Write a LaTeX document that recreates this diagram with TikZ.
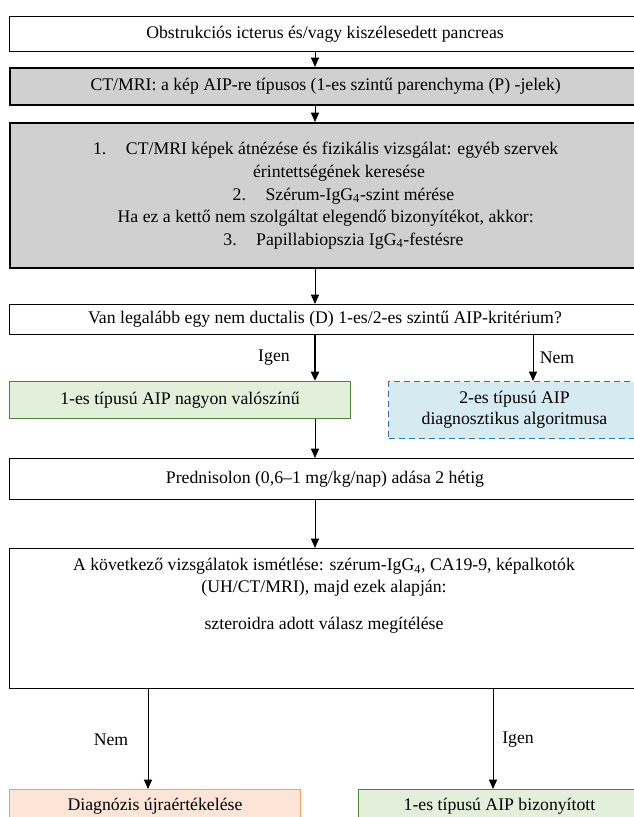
\documentclass[tikz,border=0pt]{standalone}
\usepackage{fontspec}
\setmainfont{Liberation Serif}
\usetikzlibrary{arrows.meta}

\definecolor{boxgrey}{RGB}{208,208,208}
\definecolor{boxgreen}{RGB}{226,239,218}
\definecolor{edgegreen}{RGB}{84,130,53}
\definecolor{boxblue}{RGB}{214,235,241}
\definecolor{edgeblue}{RGB}{46,117,182}
\definecolor{boxorange}{RGB}{252,228,214}
\definecolor{edgeorange}{RGB}{244,160,100}

\tikzset{every picture/.style={line width=0.75pt}}
\tikzset{
  box/.style={draw, inner sep=0pt, anchor=north west, align=center, font=\fontsize{13.3}{16.9}\selectfont},
  greybox/.style={box, fill=boxgrey, line width=1.8pt},
  greenbox/.style={box, draw=edgegreen, fill=boxgreen},
  bluebox/.style={box, draw=edgeblue, fill=boxblue, dashed, dash pattern=on 4.5pt off 3pt},
  orangebox/.style={box, draw=edgeorange, fill=boxorange},
  flow/.style={-{Triangle[length=7pt,width=6pt]}},
  answer/.style={inner sep=0.75pt, font=\fontsize{13.3}{15}\selectfont},
}

\begin{document}
\begin{tikzpicture}[x=0.75pt,y=0.75pt,yscale=-1,xscale=1]
\useasboundingbox (0,0) rectangle (634,817);

%Shape: Rectangle
\node [box, minimum width=473.25pt, minimum height=26.25pt] (obst) at (9,16) {Obstrukciós icterus és/vagy kiszélesedett pancreas};
%Shape: Rectangle
\node [greybox, minimum width=473.25pt, minimum height=27.75pt] (ctmri) at (9,67) {CT/MRI: a kép AIP-re típusos (1-es szintű parenchyma (P) -jelek)};
%Shape: Rectangle
\node [greybox, minimum width=473.25pt, minimum height=108.75pt] (steps) at (9,122) {1.\hspace{1.1em}CT/MRI képek átnézése és fizikális vizsgálat: egyéb szervek\\
\hspace{1.5em}érintettségének keresése\\
\hspace{2em}2.\hspace{1.1em}Szérum-IgG\textsubscript{4}-szint mérése\\
Ha ez a kettő nem szolgáltat elegendő bizonyítékot, akkor:\\
\hspace{2em}3.\hspace{1.1em}Papillabiopszia IgG\textsubscript{4}-festésre};
%Shape: Rectangle
\node [box, minimum width=473.25pt, minimum height=22.5pt] (crit) at (9,304) {Van legalább egy nem ductalis (D) 1-es/2-es szintű AIP-kritérium?};
%Shape: Rectangle
\node [greenbox, minimum width=255.75pt, minimum height=27.75pt] (likely) at (9,381) {1-es típusú AIP nagyon valószínű};
%Shape: Rectangle
\node [bluebox, minimum width=189pt, minimum height=42.75pt, font=\fontsize{13.3}{16}\selectfont] (type2) at (388,381) {2-es típusú AIP\\diagnosztikus algoritmusa};
%Shape: Rectangle
\node [box, minimum width=473.25pt, minimum height=30.75pt] (pred) at (9,458) {Prednisolon (0,6–1 mg/kg/nap) adása 2 hétig};
%Shape: Rectangle
\node [box, minimum width=473.25pt, minimum height=105pt] (resp) at (9,548) {};
% Text Node
\node [answer, anchor=north, align=center, font=\fontsize{13.3}{16.5}\selectfont] (resptext) at (324,557) {A következő vizsgálatok ismétlése: szérum-IgG\textsubscript{4}, CA19-9, képalkotók\\(UH/CT/MRI), majd ezek alapján:\\[11pt]szteroidra adott válasz megítélése};
%Shape: Rectangle
\node [orangebox, minimum width=218.25pt, text height=16pt, text depth=20pt] (rediag) at (9,789) {Diagnózis újraértékelése};
%Shape: Rectangle
\node [greenbox, minimum width=211.5pt, text height=16pt, text depth=20pt] (proven) at (358,789) {1-es típusú AIP bizonyított};

\coordinate (axis) at (315,0);
\coordinate (nemaxis) at (533,0);
\coordinate (leftaxis) at (148,0);
\coordinate (rightaxis) at (493,0);

%Straight Lines
\draw [flow] (obst.south -| axis) -- (ctmri.north -| axis);
%Straight Lines
\draw [flow] (ctmri.south -| axis) -- (steps.north -| axis);
%Straight Lines
\draw [flow] (steps.south -| axis) -- (crit.north -| axis);
%Straight Lines
\draw [flow, line width=2.2pt] (crit.south -| axis) -- (likely.north -| axis);
%Straight Lines
\draw [flow] (crit.south -| nemaxis) -- (type2.north -| nemaxis);
%Straight Lines
\draw [flow] (likely.south -| axis) -- (pred.north -| axis);
%Straight Lines
\draw [flow] (pred.south -| axis) -- (resp.north -| axis);
%Straight Lines
\draw [flow] (resp.south -| leftaxis) -- (rediag.north -| leftaxis);
%Straight Lines
\draw [flow] (resp.south -| rightaxis) -- (proven.north -| rightaxis);

% Text Node
\node [answer] (igen1) at (274,358) {Igen};
% Text Node
\node [answer] (nem1) at (557,358) {Nem};
% Text Node
\node [answer] (nem2) at (111,740) {Nem};
% Text Node
\node [answer] (igen2) at (518,740) {Igen};

\end{tikzpicture}
\end{document}
